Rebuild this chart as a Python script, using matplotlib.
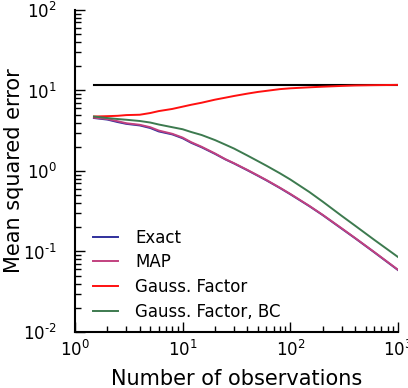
import matplotlib
matplotlib.use("Agg")
import matplotlib.pyplot as plt
from matplotlib.ticker import FuncFormatter, LogLocator
import numpy as np

n_obs = [1.5, 2, 2.5, 3, 4, 5, 6, 8, 10, 12, 15, 20, 25, 30, 40, 50, 60, 80,
         100, 150, 200, 300, 400, 600, 800, 1000]

exact = [4.55, 4.35, 4.05, 3.85, 3.68, 3.42, 3.10, 2.85, 2.55, 2.24, 1.97, 1.63,
         1.39, 1.24, 1.02, 0.872, 0.765, 0.615, 0.514, 0.366, 0.283, 0.192, 0.146,
         0.098, 0.0735, 0.0588]
map_est = [4.60, 4.42, 4.15, 3.92, 3.75, 3.50, 3.18, 2.90, 2.60, 2.28, 2.00, 1.65,
           1.40, 1.25, 1.03, 0.88, 0.772, 0.62, 0.519, 0.369, 0.285, 0.194, 0.147,
           0.0988, 0.0741, 0.0593]
gauss = [4.75, 4.80, 4.85, 4.95, 5.00, 5.25, 5.55, 5.90, 6.30, 6.65, 7.05, 7.70,
         8.15, 8.55, 9.15, 9.60, 9.90, 10.40, 10.65, 10.95, 11.15, 11.40, 11.55,
         11.65, 11.70, 11.75]
gauss_bc = [4.75, 4.55, 4.42, 4.33, 4.18, 4.00, 3.78, 3.50, 3.30, 3.05, 2.80, 2.42,
            2.12, 1.90, 1.555, 1.326, 1.163, 0.937, 0.784, 0.549, 0.416, 0.277, 0.209,
            0.140, 0.106, 0.0854]
baseline = 11.75

labels = ["Exact", "MAP", "Gauss. Factor", "Gauss. Factor, BC"]
colors = ["#30309c", "#c2417f", "#ff1010", "#3d7a4f"]


def pow10_label(v, pos):
    k = int(round(np.log10(v)))
    if k < 0:
        return r"$\mathdefault{10^{\text{-}%d}}$" % (-k)
    return r"$\mathdefault{10^{%d}}$" % k


fig = plt.figure(figsize=(4.08, 3.88), dpi=100)
ax = fig.add_axes([75/408, 1-332/388, (398-75)/408, (332-10)/388])

ax.plot([n_obs[0], n_obs[-1]], [baseline, baseline], color="black", lw=1.5)
for ys, lab, c in zip([exact, map_est, gauss, gauss_bc], labels, colors):
    ax.plot(n_obs, ys, color=c, lw=1.4, label=lab)

ax.set_xscale("log")
ax.set_yscale("log")
ax.set_xlim(1, 1000)
ax.set_ylim(0.01, 100)
ax.yaxis.set_major_locator(LogLocator(base=10))
ax.yaxis.set_major_formatter(FuncFormatter(pow10_label))

for s in ["top", "right"]:
    ax.spines[s].set_visible(False)
for s in ["left", "bottom"]:
    ax.spines[s].set_linewidth(1.5)

ax.tick_params(which="both", direction="in", top=False, right=False, width=1.0)
ax.tick_params(which="major", length=7.5)
ax.tick_params(which="minor", length=4)
ax.tick_params(axis="y", which="major", pad=13, labelsize=12)
ax.tick_params(axis="x", which="major", pad=6, labelsize=12)

ax.set_xlabel("Number of observations", fontsize=15, labelpad=6)
ax.set_ylabel("Mean squared error", fontsize=15)
ax.yaxis.set_label_coords(-0.158, 0.5)

leg = ax.legend(loc="lower left", frameon=False, fontsize=12, handlelength=1.5,
                handletextpad=1.0, labelspacing=0.4, bbox_to_anchor=(0.01, -0.011))

fig.savefig("out.png", dpi=100)
